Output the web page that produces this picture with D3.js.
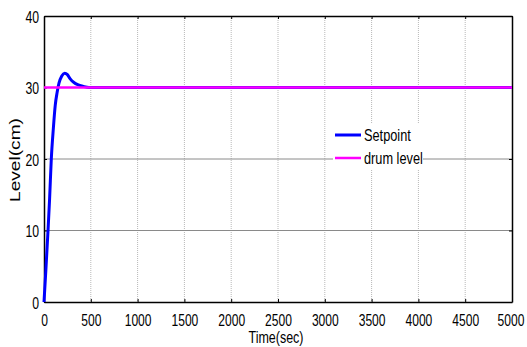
<!DOCTYPE html>
<html>
<head>
<meta charset="utf-8">
<script src="https://cdn.jsdelivr.net/npm/d3@7"></script>
<style>
  body { margin: 0; background: #fff; }
  svg text { font-family: "Liberation Sans", Arial, sans-serif; fill: #000; }
</style>
</head>
<body>
<svg width="527" height="347"></svg>
<script>
// data
const timeSec = [0, 20, 43, 60, 78, 100, 120, 140, 160, 190, 220, 250, 280, 320, 360, 420, 480, 550, 5000];
const setpoint = [0, 4.5, 10, 14.5, 20, 24.3, 27.5, 29.3, 30.6, 31.6, 32, 31.8, 31.2, 30.7, 30.4, 30.15, 30.0, 30, 30];
const drumTime = [0, 5000];
const drumLevel = [30, 30];
const xTicks = [0, 500, 1000, 1500, 2000, 2500, 3000, 3500, 4000, 4500, 5000];
const yTicks = [0, 10, 20, 30, 40];
const legendNames = ['Setpoint', 'drum level'];
const legendColors = ['#0000ff', '#ff00ff'];

const svg = d3.select('svg');
const margin = { left: 44, right: 15, top: 16, bottom: 45 };
const width = 527, height = 347;

const x = d3.scaleLinear().domain([0, 5000]).range([margin.left, width - margin.right]);
const y = d3.scaleLinear().domain([0, 40]).range([height - margin.bottom, margin.top]);

// the original font is a narrow one; squeeze the glyphs to match
function squeeze(sel, k) {
  sel.each(function() {
    const w = this.getComputedTextLength();
    d3.select(this).attr('textLength', w * k).attr('lengthAdjust', 'spacingAndGlyphs');
  });
}

// grid
svg.append('g')
  .selectAll('line')
  .data(xTicks.slice(1, -1))
  .enter().append('line')
  .attr('x1', d => x(d)).attr('x2', d => x(d))
  .attr('y1', y(40)).attr('y2', y(0))
  .attr('stroke', '#b8b8b8')
  .attr('stroke-width', 1)
  .attr('stroke-dasharray', '1,1');

svg.append('g')
  .selectAll('line')
  .data(yTicks.slice(1, -1))
  .enter().append('line')
  .attr('x1', x(0)).attr('x2', x(5000))
  .attr('y1', d => y(d)).attr('y2', d => y(d))
  .attr('stroke', '#8a8a8a')
  .attr('stroke-width', 1);

// axes (ticks inside, mirrored)
const axBottom = svg.append('g')
  .attr('transform', 'translate(0,' + y(0) + ')')
  .call(d3.axisBottom(x).tickValues(xTicks).tickFormat(d3.format('d')).tickSizeInner(-3).tickSizeOuter(0));
const axTop = svg.append('g')
  .attr('transform', 'translate(0,' + y(40) + ')')
  .call(d3.axisTop(x).tickValues(xTicks).tickSizeInner(-3).tickSizeOuter(0).tickFormat(''));
const axLeft = svg.append('g')
  .attr('transform', 'translate(' + x(0) + ',0)')
  .call(d3.axisLeft(y).tickValues(yTicks).tickSizeInner(-3).tickSizeOuter(0).tickPadding(5));
const axRight = svg.append('g')
  .attr('transform', 'translate(' + x(5000) + ',0)')
  .call(d3.axisRight(y).tickValues(yTicks).tickSizeInner(-3).tickSizeOuter(0).tickFormat(''));

[axBottom, axTop, axLeft, axRight].forEach(g => {
  g.select('.domain').attr('stroke', '#000').attr('stroke-width', 1.5);
  g.selectAll('.tick line').attr('stroke', '#000');
  g.selectAll('text').style('font-size', '17px').attr('fill', '#000');
});
axBottom.selectAll('text').attr('y', 24).attr('dy', 0);
axLeft.selectAll('text').attr('dy', '0.36em');
squeeze(axBottom.selectAll('text'), 0.71);
squeeze(axLeft.selectAll('text'), 0.72);
// keep the last label inside the frame
axBottom.selectAll('.tick').filter(d => d === 5000).select('text').attr('x', -1.5);

// lines
const line = d3.line().x(d => x(d[0])).y(d => y(d[1]));

svg.append('path')
  .datum(timeSec.map((t, i) => [t, setpoint[i]]))
  .attr('d', line.curve(d3.curveMonotoneX))
  .attr('fill', 'none')
  .attr('stroke', legendColors[0])
  .attr('stroke-width', 3);

svg.append('path')
  .datum(drumTime.map((t, i) => [t, drumLevel[i]]))
  .attr('d', d3.line().x(d => x(d[0])).y(d => y(d[1])))
  .attr('fill', 'none')
  .attr('stroke', legendColors[1])
  .attr('stroke-width', 2.5);

// legend
const legend = svg.append('g').attr('transform', 'translate(333,124)');
legend.append('rect')
  .attr('width', 90).attr('height', 46)
  .attr('fill', '#fff');
const item = legend.selectAll('g.item')
  .data(legendNames)
  .enter().append('g')
  .attr('class', 'item')
  .attr('transform', (d, i) => 'translate(0,' + (11 + i * 23) + ')');
item.append('line')
  .attr('x1', 2).attr('x2', 28)
  .attr('stroke', (d, i) => legendColors[i])
  .attr('stroke-width', (d, i) => i === 0 ? 3 : 2.5);
item.append('text')
  .attr('x', 31).attr('dy', '0.36em')
  .style('font-size', '17px')
  .text(d => d)
  .call(squeeze, 0.75);

// axis labels
svg.append('text')
  .attr('x', 276).attr('y', 343)
  .attr('text-anchor', 'middle')
  .style('font-size', '16px')
  .text('Time(sec)')
  .call(squeeze, 0.78);

svg.append('text')
  .attr('transform', 'translate(20,160) rotate(-90)')
  .attr('text-anchor', 'middle')
  .style('font-size', '14px')
  .attr('textLength', 84)
  .attr('lengthAdjust', 'spacingAndGlyphs')
  .text('Level(cm)');
</script>
</body>
</html>
